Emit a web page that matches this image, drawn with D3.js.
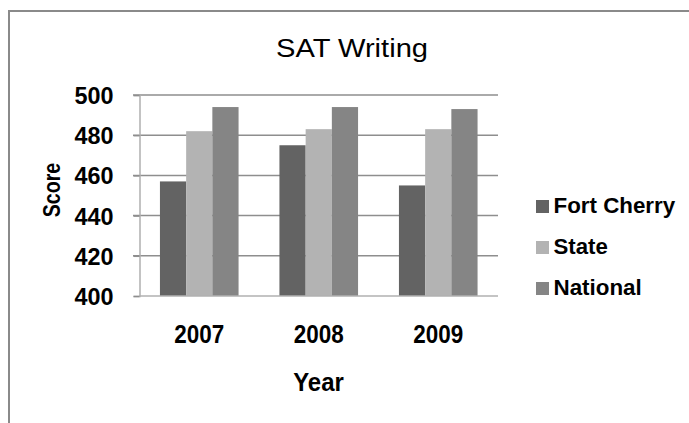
<!DOCTYPE html>
<html>
<head>
<meta charset="utf-8">
<script src="https://cdn.jsdelivr.net/npm/d3@7"></script>
<style>
  body { margin: 0; background: #fff; }
  text { font-family: "Liberation Sans", Arial, sans-serif; fill: #000; }
</style>
</head>
<body>
<div id="chart"></div>
<script>
// Data
const years = ["2007", "2008", "2009"];
const series = ["Fort Cherry", "State", "National"];
const fortCherry = [457, 475, 455];
const state = [482, 483, 483];
const national = [494, 494, 493];
const yTicks = [400, 420, 440, 460, 480, 500];
const colors = ["#636363", "#b3b3b3", "#858585"];

const width = 689;
const height = 423;
const values = [fortCherry, state, national];

// the source image is a bit stretched, so text gets squeezed/widened with textLength
const legendWidths = { "Fort Cherry": 121.7, "State": 54.3, "National": 88.3 };

const svg = d3.select("#chart").append("svg")
    .attr("width", width)
    .attr("height", height);

// frame (only top and left edges are visible in the shot)
svg.append("path")
    .attr("d", "M9,423 V11 H689")
    .attr("fill", "none")
    .attr("stroke", "#8a8a8a")
    .attr("stroke-width", 2);

// Scales
const x0 = d3.scaleBand()
    .domain(years)
    .range([139.5, 498])
    .paddingInner(0)
    .paddingOuter(0);

const x1 = d3.scaleBand()
    .domain(series)
    .range([0, x0.bandwidth()])
    .paddingOuter(0.78);

const y = d3.scaleLinear()
    .domain([400, 500])
    .range([296, 95]);

const color = d3.scaleOrdinal().domain(series).range(colors);

// gridlines
svg.append("g")
    .selectAll("line")
    .data(yTicks.filter(d => d > 400))
    .enter().append("line")
    .attr("x1", 133).attr("x2", 498)
    .attr("y1", d => y(d)).attr("y2", d => y(d))
    .attr("stroke", "#8e8e8e")
    .attr("stroke-width", 1.5);

// y axis
const yAxis = svg.append("g")
    .attr("transform", "translate(139.5,0)")
    .call(d3.axisLeft(y).tickValues(yTicks).tickSize(6).tickPadding(20));
yAxis.select(".domain").attr("stroke", "#b0b0b0").attr("stroke-width", 1.5);
yAxis.selectAll(".tick line").attr("stroke", "#8e8e8e").attr("stroke-width", 1.5);
yAxis.selectAll(".tick text")
    .style("font-size", "23px")
    .style("font-weight", "bold")
    .attr("dy", null)
    .attr("y", 8.5)
    .attr("textLength", 39)
    .attr("lengthAdjust", "spacingAndGlyphs");

// bars
const groups = svg.append("g")
    .selectAll("g")
    .data(years)
    .enter().append("g")
    .attr("transform", d => "translate(" + x0(d) + ",0)");

groups.selectAll("rect")
    .data((yr, i) => series.map((s, j) => ({ key: s, value: values[j][i] })))
    .enter().append("rect")
    .attr("x", d => x1(d.key))
    .attr("width", x1.bandwidth())
    .attr("y", d => y(d.value))
    .attr("height", d => y(400) - y(d.value))
    .attr("fill", d => color(d.key));

// x axis line
svg.append("line")
    .attr("x1", 139.5).attr("x2", 498)
    .attr("y1", y(400)).attr("y2", y(400))
    .attr("stroke", "#b0b0b0")
    .attr("stroke-width", 1.5);

// x labels
svg.append("g")
    .selectAll("text")
    .data(years)
    .enter().append("text")
    .attr("x", d => x0(d) + x0.bandwidth() / 2)
    .attr("y", 343)
    .attr("text-anchor", "middle")
    .style("font-size", "25px")
    .style("font-weight", "bold")
    .attr("textLength", 50)
    .attr("lengthAdjust", "spacingAndGlyphs")
    .text(d => d);

// title
svg.append("text")
    .attr("x", 352)
    .attr("y", 57)
    .attr("text-anchor", "middle")
    .style("font-size", "25.5px")
    .attr("textLength", 152)
    .attr("lengthAdjust", "spacingAndGlyphs")
    .text("SAT Writing");

// axis titles
svg.append("text")
    .attr("x", 318.5)
    .attr("y", 391)
    .attr("text-anchor", "middle")
    .style("font-size", "25px")
    .style("font-weight", "bold")
    .attr("textLength", 50.6)
    .attr("lengthAdjust", "spacingAndGlyphs")
    .text("Year");

svg.append("text")
    .attr("transform", "translate(60,190)rotate(-90)")
    .attr("text-anchor", "middle")
    .style("font-size", "23px")
    .style("font-weight", "bold")
    .attr("textLength", 54.6)
    .attr("lengthAdjust", "spacingAndGlyphs")
    .text("Score");

// legend
const legend = svg.append("g")
    .selectAll("g")
    .data(series)
    .enter().append("g")
    .attr("transform", (d, i) => "translate(536," + (213 + i * 41) + ")");

legend.append("rect")
    .attr("x", 0)
    .attr("y", -13)
    .attr("width", 13)
    .attr("height", 13)
    .attr("fill", d => color(d));

legend.append("text")
    .attr("x", 17.5)
    .attr("y", 0)
    .style("font-size", "21.5px")
    .style("font-weight", "bold")
    .attr("textLength", d => legendWidths[d])
    .attr("lengthAdjust", "spacingAndGlyphs")
    .text(d => d);
</script>
</body>
</html>
